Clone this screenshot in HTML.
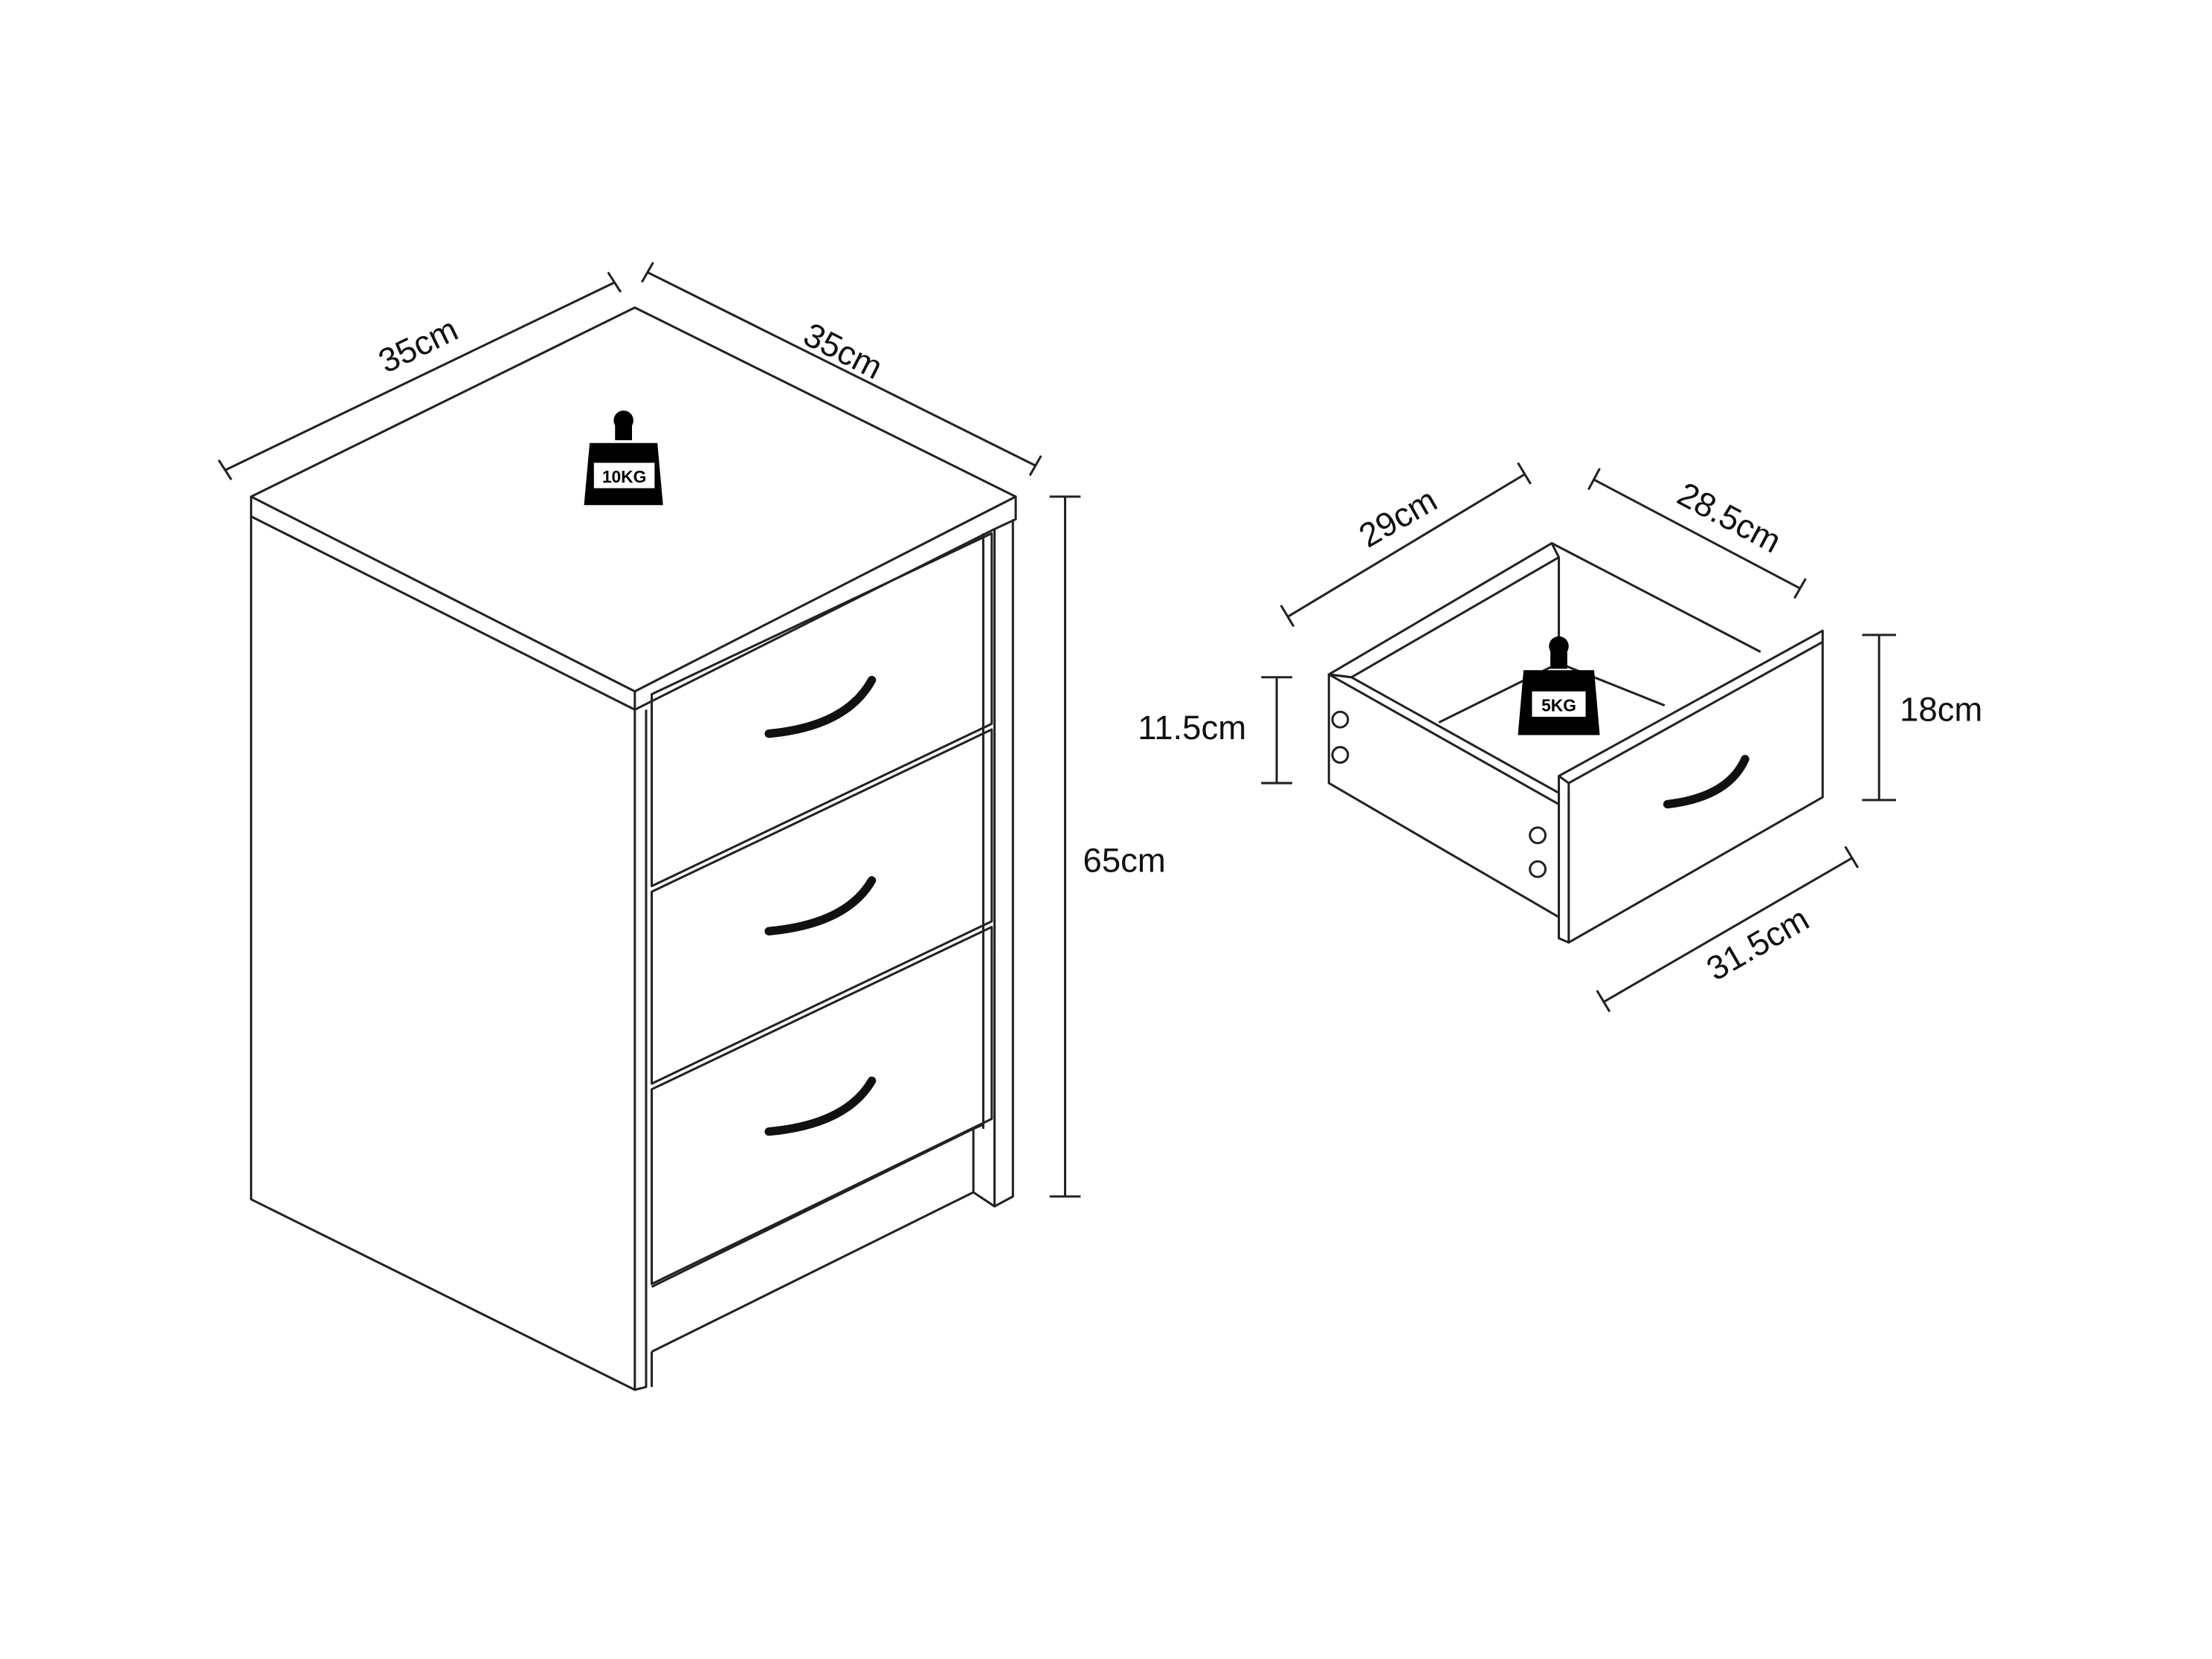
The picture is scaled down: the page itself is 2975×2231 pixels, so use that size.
<!DOCTYPE html>
<html><head><meta charset="utf-8"><style>html,body{margin:0;padding:0;background:#fff}svg{display:block}</style></head>
<body>
<svg width="2975" height="2231" viewBox="0 0 1568 1175.8" preserveAspectRatio="none" xmlns="http://www.w3.org/2000/svg" font-family="Liberation Sans, sans-serif">
<g fill="none" stroke="#222" stroke-width="1.6" stroke-linejoin="round">
<polygon points="178,352 450,218 720,352 450,490"/>
<polyline points="178,352 178,366 450,503 450,490"/>
<polyline points="450,503 705,375 720,368 720,352"/>
<polyline points="178,366 178,850 450,985 458,983 458,503"/>
<line x1="450" y1="503" x2="450" y2="985"/>
<polyline points="705,375 705,855 718,848 718,368"/>
<line x1="697" y1="378" x2="697" y2="800"/>
<polygon points="462,492 703,378 703,513 462,628"/>
<polygon points="462,632 703,517 703,653 462,768"/>
<polygon points="462,772 703,657 703,793 462,910"/>
<polyline points="462,912 690,800 690,845 462,958"/>
<line x1="690" y1="800" x2="697" y2="797"/>
<line x1="690" y1="845" x2="705" y2="855"/>
<line x1="462" y1="958" x2="462" y2="983"/>
<line x1="160" y1="333" x2="436" y2="200"/>
<line x1="155" y1="326" x2="164" y2="340"/><line x1="431" y1="193" x2="440" y2="207"/>
<line x1="459" y1="193" x2="734" y2="330"/>
<line x1="463" y1="186" x2="455" y2="200"/><line x1="738" y1="323" x2="730" y2="337"/>
<line x1="755" y1="352" x2="755" y2="848"/>
<line x1="744" y1="352" x2="766" y2="352"/><line x1="744" y1="848" x2="766" y2="848"/>
<polygon points="942,478 1100,385 1105,395 958,480"/>
<polyline points="1100,385 1248,462"/>
<polyline points="1105,395 1105,470"/>
<polyline points="1020,512 1105,470 1180,500"/>
<polygon points="942,478 958,480 1105,562 1105,570 942,478"/>
<polyline points="942,478 942,555 1105,650"/>
<polygon points="1105,550 1292,447 1292,565 1112,668 1105,665"/>
<line x1="1112" y1="555" x2="1112" y2="668"/>
<line x1="1105" y1="550" x2="1112" y2="555"/>
<line x1="1112" y1="555" x2="1292" y2="455"/>
<circle cx="950" cy="510" r="5.5"/><circle cx="950" cy="535" r="5.5"/>
<circle cx="1090" cy="592" r="5.5"/><circle cx="1090" cy="616" r="5.5"/>
<line x1="913" y1="437" x2="1081" y2="336"/>
<line x1="908" y1="429" x2="917" y2="444"/><line x1="1076" y1="328" x2="1085" y2="343"/>
<line x1="1130" y1="340" x2="1276" y2="417"/>
<line x1="1134" y1="332" x2="1126" y2="347"/><line x1="1280" y1="410" x2="1272" y2="424"/>
<line x1="905" y1="480" x2="905" y2="555"/>
<line x1="894" y1="480" x2="916" y2="480"/><line x1="894" y1="555" x2="916" y2="555"/>
<line x1="1332" y1="450" x2="1332" y2="567"/>
<line x1="1320" y1="450" x2="1344" y2="450"/><line x1="1320" y1="567" x2="1344" y2="567"/>
<line x1="1137" y1="710" x2="1313" y2="608"/>
<line x1="1132" y1="702" x2="1141" y2="717"/><line x1="1308" y1="600" x2="1317" y2="615"/>
</g>
<g fill="none" stroke="#111" stroke-width="6" stroke-linecap="round">
<path d="M545,520 Q600,515 618,482"/>
<path d="M545,660 Q600,655 618,624"/>
<path d="M545,802 Q600,797 618,766"/>
<path d="M1182,570 Q1225,565 1237,538"/>
</g>
<g fill="#000">
<circle cx="442" cy="298" r="7"/><rect x="436" y="300" width="12" height="12"/>
<path d="M418,314 L466,314 L470,358 L414,358 Z"/>
<circle cx="1105" cy="458" r="7"/><rect x="1099" y="460" width="12" height="14"/>
<path d="M1080,475 L1130,475 L1134,521 L1076,521 Z"/>
</g>
<rect x="421" y="328" width="43" height="18" fill="#fff"/>
<text x="442.5" y="342" font-size="12" font-weight="bold" text-anchor="middle">10KG</text>
<rect x="1086" y="490" width="38" height="18" fill="#fff"/>
<text x="1105" y="504" font-size="12" font-weight="bold" text-anchor="middle">5KG</text>
<g font-size="24" fill="#111" text-anchor="middle">
<text transform="translate(300,252) rotate(-26)">35cm</text>
<text transform="translate(594,256) rotate(27)">35cm</text>
<text x="797" y="618">65cm</text>
<text transform="translate(995,374) rotate(-30)">29cm</text>
<text transform="translate(1222,374) rotate(28)">28.5cm</text>
<text x="845" y="524">11.5cm</text>
<text x="1376" y="511">18cm</text>
<text transform="translate(1250,676) rotate(-30)">31.5cm</text>
</g>
</svg>
</body></html>
